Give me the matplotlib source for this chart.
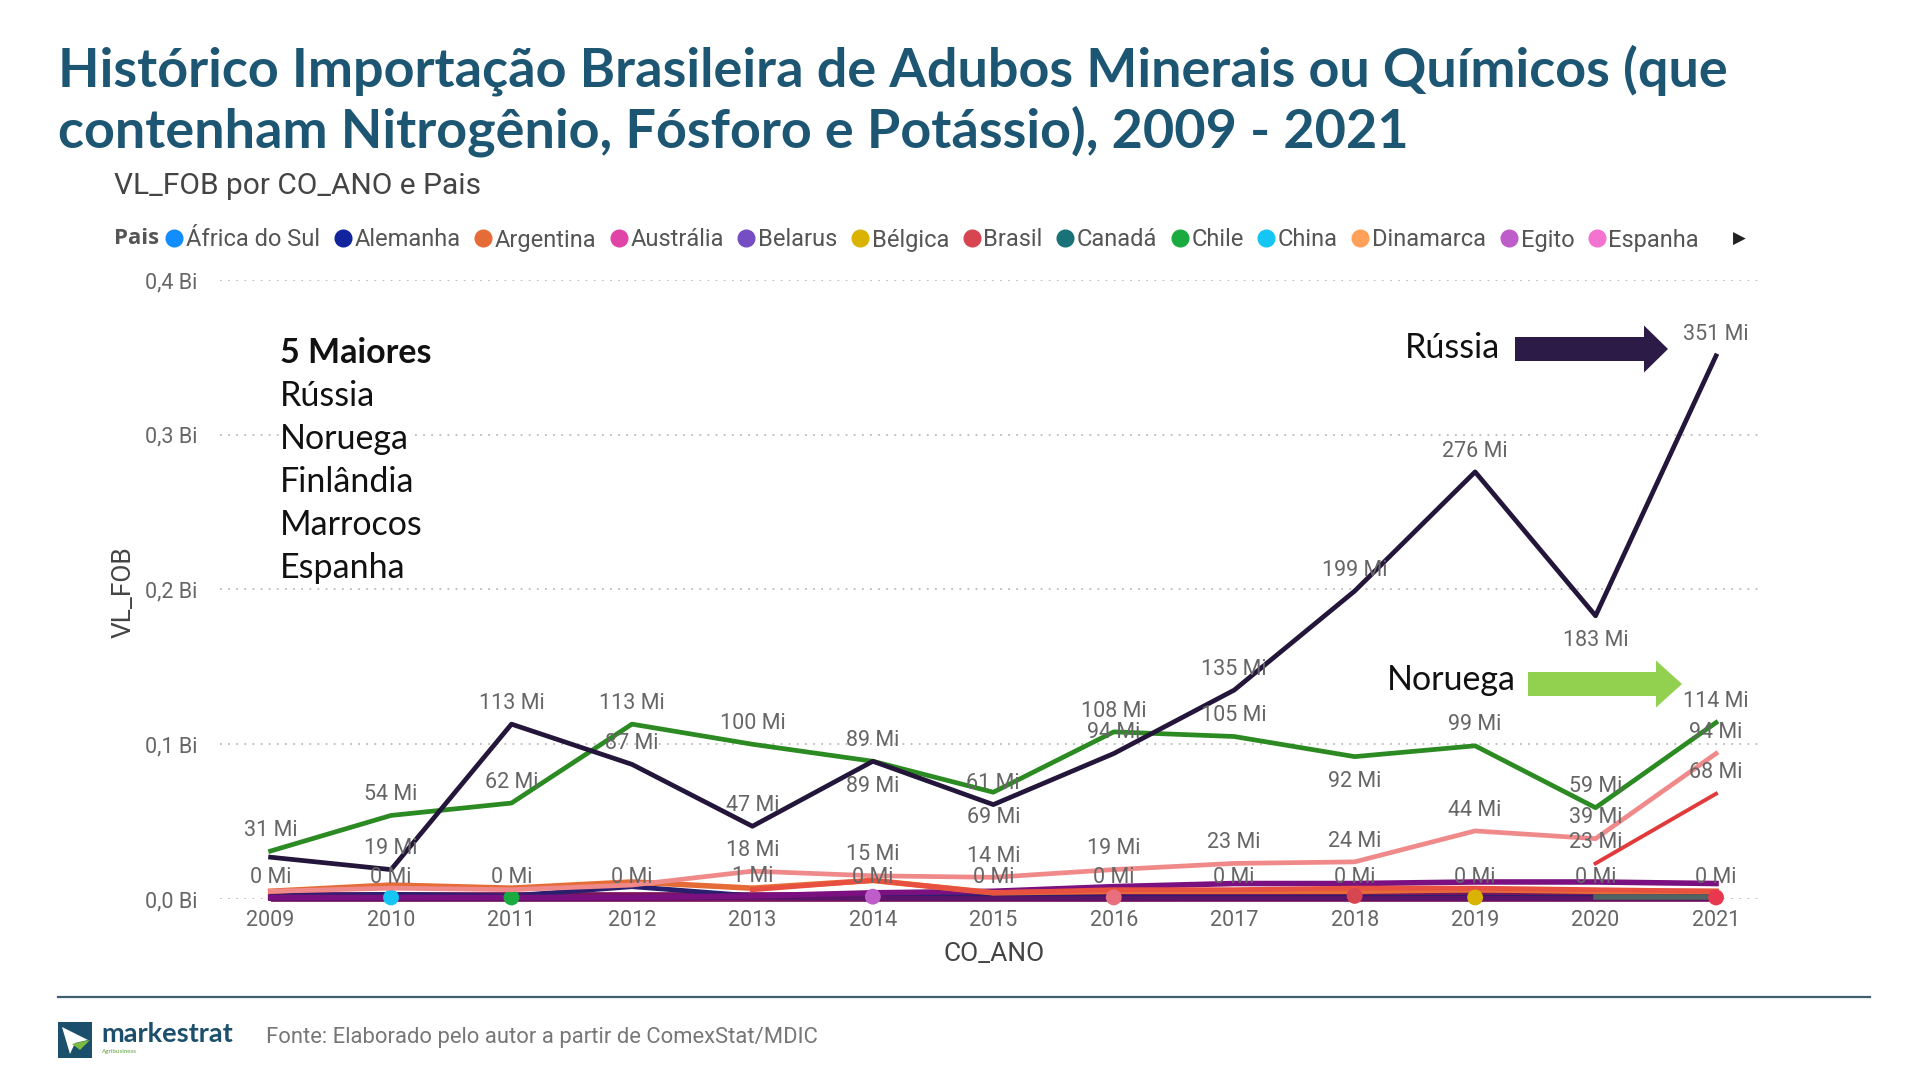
import numpy as np
import matplotlib
matplotlib.use("Agg")
import matplotlib.pyplot as plt
from matplotlib.lines import Line2D
from matplotlib.patches import Polygon, Rectangle
from matplotlib.ticker import FuncFormatter, MultipleLocator

nan = np.nan
years = list(range(2009, 2022))

# ---- main series (values in millions US$) ----
russia_mi    = [27, 19, 113, 87, 47, 89, 61, 94, 135, 199, 276, 183, 351]
noruega_mi   = [31, 54, 62, 113, 100, 89, 69, 108, 105, 92, 99, 59, 114]
finlandia_mi = [5, 7, 6, 9, 18, 15, 14, 19, 23, 24, 44, 39, 94]
marrocos_mi  = [nan, nan, nan, nan, nan, nan, nan, nan, nan, nan, nan, 23, 68]

# ---- small series crowding the bottom ----
argentina_mi = [5, 9, 7, 11, 7, 12, 4, 5, 5, 5, 6, 5, 5]
purple_mi    = [1, 1, 1, 1, 2, 4, 5, 8, 10, 10, 11, 11, 10]
redor_mi     = [nan, nan, nan, nan, 6, 12, 4, 6, 6, 7, 7, 6, 5]
navy_mi      = [2, 3, 2, 8, 2, 3, 1, 1, 1, 1, 1, 1, 1]
maroon_mi    = [1, 1, 1, 1, 1, 1, 1, 1, 1, 1, 1, 1, 1]
teal_mi      = [nan, nan, nan, nan, nan, nan, nan, nan, nan, nan, nan, 1, 1]
nearzero_mi  = [0.3, 0.2, 0.3, 0.4, 1.2, 0.4, 0.3, 0.2, 0.3, 0.3, 0.4, 0.3, 0.3]

# single-year series (shown as dots)
dots_year  = [2010, 2011, 2014, 2016, 2018, 2019, 2021]
dots_mi    = [1, 1, 1.5, 1, 2, 1, 1]
dots_color = ["#15C6F4", "#1AAB40", "#BE5DC9", "#E8707E", "#D64550", "#D9B300", "#E8384F"]

# label placement per year: 'a' above, 'b' below, '' none
russia_pos    = ['', 'a', 'a', 'a', 'a', 'a', 'a', 'a', 'a', 'a', 'a', 'b', 'a']
noruega_pos   = ['a', 'a', 'a', 'a', 'a', 'b', 'b', 'a', 'a', 'b', 'a', 'a', 'a']
finlandia_pos = ['', '', '', '', 'a', 'a', 'a', 'a', 'a', 'a', 'a', 'a', 'a']
marrocos_pos  = ['', '', '', '', '', '', '', '', '', '', '', 'a', 'a']
nearzero_pos  = ['a'] * 13

# legend
legend_names  = ["África do Sul", "Alemanha", "Argentina", "Austrália", "Belarus", "Bélgica",
                 "Brasil", "Canadá", "Chile", "China", "Dinamarca", "Egito", "Espanha"]
legend_colors = ["#118DFF", "#12239E", "#E66C37", "#E044A7", "#744EC2", "#D9B300",
                 "#D64550", "#197278", "#1AAB40", "#15C6F4", "#FFA058", "#BE5DC9", "#F472D0"]

top5 = ["Rússia", "Noruega", "Finlândia", "Marrocos", "Espanha"]

W, H = 1920, 1080
fig = plt.figure(figsize=(19.2, 10.8), dpi=100)
fig.patch.set_facecolor("white")
renderer = fig.canvas.get_renderer()


def fx(px):
    return px / W


def fy(py):
    return 1 - py / H


def fit(t, width_px):
    bb = t.get_window_extent(renderer=renderer)
    t.set_fontsize(t.get_fontsize() * width_px / bb.width)


# ---- title ----
tcol = "#1D5672"
t1 = fig.text(fx(58), fy(70), "Histórico Importação Brasileira de Adubos Minerais ou Químicos (que",
              fontsize=40, fontweight="bold", family="Lato", color=tcol, va="center", ha="left")
fit(t1, 1669)
t2 = fig.text(fx(58), fy(131), "contenham Nitrogênio, Fósforo e Potássio), 2009 - 2021",
              fontsize=t1.get_fontsize(), fontweight="bold", family="Lato", color=tcol,
              va="center", ha="left")

st = fig.text(fx(114), fy(186), "VL_FOB por CO_ANO e Pais", fontsize=20, family="Roboto",
              color="#444444", va="center", ha="left")
fit(st, 367)

# ---- legend ----
fig.text(fx(114), fy(239), "Pais", fontsize=16, fontweight="bold", family="Open Sans",
         color="#555555", va="center", ha="left")
handles = [Line2D([], [], marker="o", ls="", color=c, markersize=12) for c in legend_colors]
leg = fig.legend(handles, legend_names, loc="center left", bbox_to_anchor=(fx(166), fy(240)),
                 ncol=len(legend_names), frameon=False, handlelength=0.7, handletextpad=0.15,
                 columnspacing=0.6, borderpad=0, borderaxespad=0,
                 prop={"family": "Roboto", "size": 17})
for txt in leg.get_texts():
    txt.set_color("#555555")
fig.text(fx(1739), fy(239), "▶", fontsize=12, color="#222222", va="center", ha="center",
         family="DejaVu Sans")

# ---- axes ----
ax = fig.add_axes([fx(220), fy(899), fx(1763) - fx(220), (899 - 280) / H])
ax.set_xlim(2008.58, 2021.39)
ax.set_ylim(0, 0.4)
for s in ax.spines.values():
    s.set_visible(False)
ax.yaxis.set_major_locator(MultipleLocator(0.1))
ax.yaxis.set_major_formatter(FuncFormatter(lambda v, p: f"{v:.1f}".replace(".", ",") + " Bi"))
ax.set_xticks(years)
ax.set_xticklabels([str(y) for y in years])
ax.tick_params(length=0)
ax.tick_params(axis="x", pad=8, labelsize=15.5, labelcolor="#666666")
ax.tick_params(axis="y", pad=16, labelsize=15.5, labelcolor="#666666")
for lab in ax.get_xticklabels() + ax.get_yticklabels():
    lab.set_family("Roboto")
ax.yaxis.grid(True, linestyle=(0, (1, 3.5)), color="#BBBBBB", lw=1.3)
ax.set_axisbelow(True)

fig.text(fx(124), fy(592), "VL_FOB", rotation=90, fontsize=19, family="Roboto",
         color="#444444", va="center", ha="center")
fig.text(fx(994), fy(954), "CO_ANO", fontsize=19, family="Roboto",
         color="#444444", va="center", ha="center")


def bi(vals):
    return np.array(vals, dtype=float) / 1000.0


# bottom clutter
ax.plot(years, bi(maroon_mi), color="#7A145E", lw=7, clip_on=False, zorder=2,
        solid_capstyle="butt")
ax.plot(years, bi(navy_mi), color="#2A1F6E", lw=3.5, clip_on=False, zorder=2.1)
ax.plot(years, bi(nearzero_mi), color="#5C1468", lw=3.5, clip_on=False, zorder=2.2)
ax.plot(years, bi(teal_mi), color="#4E6462", lw=4, clip_on=False, zorder=2.3)
ax.plot(years, bi(purple_mi), color="#7B1080", lw=4, clip_on=False, zorder=2.4)
ax.plot(years, bi(argentina_mi), color="#E66C37", lw=4, clip_on=False, zorder=2.5)
ax.plot(years, bi(redor_mi), color="#E8503F", lw=3.5, clip_on=False, zorder=2.6)
ax.scatter(dots_year, bi(dots_mi), s=130, c=dots_color, zorder=3, clip_on=False, linewidths=0)

# top series
ax.plot(years, bi(finlandia_mi), color="#F08A8A", lw=3.4, zorder=3.2)
ax.plot(years, bi(marrocos_mi), color="#E23A3A", lw=2.8, zorder=3.3)
ax.plot(years, bi(noruega_mi), color="#2B8A22", lw=3.4, zorder=4)
ax.plot(years, bi(russia_mi), color="#24163A", lw=3.4, zorder=5)


def labels(vals, pos):
    for x, v, p in zip(years, vals, pos):
        if not p or np.isnan(v):
            continue
        dy = 15 if p == "a" else -18
        ax.annotate(f"{v:.0f} Mi", (x, v / 1000.0), xytext=(0, dy), textcoords="offset points",
                    ha="center", va="center", fontsize=15.5, family="Roboto", color="#666666",
                    zorder=6)


labels(russia_mi, russia_pos)
labels(noruega_mi, noruega_pos)
labels(finlandia_mi, finlandia_pos)
labels(marrocos_mi, marrocos_pos)
labels(nearzero_mi, nearzero_pos)

# ---- annotations ----
fig.text(fx(280), fy(353), "5 Maiores", fontsize=24.5, fontweight="bold", family="Lato",
         color="#111111", va="center", ha="left",
         bbox=dict(facecolor="white", edgecolor="none", pad=1))
for i, name in enumerate(top5):
    fig.text(fx(280), fy(396 + 43 * i), name, fontsize=24.5, family="Lato", color="#111111",
             va="center", ha="left", bbox=dict(facecolor="white", edgecolor="none", pad=1))


def arrow(x0, xb, x1, yc, bh, hh, color):
    pts = [(x0, yc - bh / 2), (xb, yc - bh / 2), (xb, yc - hh / 2), (x1, yc),
           (xb, yc + hh / 2), (xb, yc + bh / 2), (x0, yc + bh / 2)]
    fig.add_artist(Polygon([(fx(a), fy(b)) for a, b in pts], closed=True,
                           transform=fig.transFigure, facecolor=color, edgecolor="none"))


fig.text(fx(1500), fy(348), "Rússia", fontsize=24.5, family="Lato", color="#111111",
         va="center", ha="right")
arrow(1515, 1644, 1668, 349, 24, 47, "#2C1A47")
fig.text(fx(1516), fy(680), "Noruega", fontsize=24.5, family="Lato", color="#111111",
         va="center", ha="right")
arrow(1528, 1656, 1682, 684, 24, 47, "#92D050")

# ---- footer ----
fig.add_artist(Line2D([fx(58), fx(1870)], [fy(997), fy(997)], color="#3F5F70", lw=1.6,
                      transform=fig.transFigure))
fig.add_artist(Rectangle((fx(58), fy(1058)), fx(34), (1058 - 1022) / H,
                         transform=fig.transFigure, facecolor="#1C4F6B", edgecolor="none"))
fig.add_artist(Polygon([(fx(a), fy(b)) for a, b in
                        [(62, 1027), (88, 1040), (75, 1043), (70, 1054)]],
                       transform=fig.transFigure, facecolor="white", edgecolor="none"))
fig.add_artist(Polygon([(fx(a), fy(b)) for a, b in
                        [(72, 1044), (90, 1040), (80, 1050)]],
                       transform=fig.transFigure, facecolor="#7DBB42", edgecolor="none"))
mk = fig.text(fx(101), fy(1034), "markestrat", fontsize=18, fontweight="bold", family="Lato",
              color="#1C4F6B", va="center", ha="left")
fit(mk, 132)
fig.text(fx(102), fy(1052), "Agribusiness", fontsize=4.5, family="Lato", color="#5BA33C",
         va="center", ha="left")
ft = fig.text(fx(266), fy(1038), "Fonte: Elaborado pelo autor a partir de ComexStat/MDIC",
              fontsize=16, family="Roboto", color="#777777", va="center", ha="left")
fit(ft, 550)

fig.savefig("out.png", dpi=100, facecolor="white")
